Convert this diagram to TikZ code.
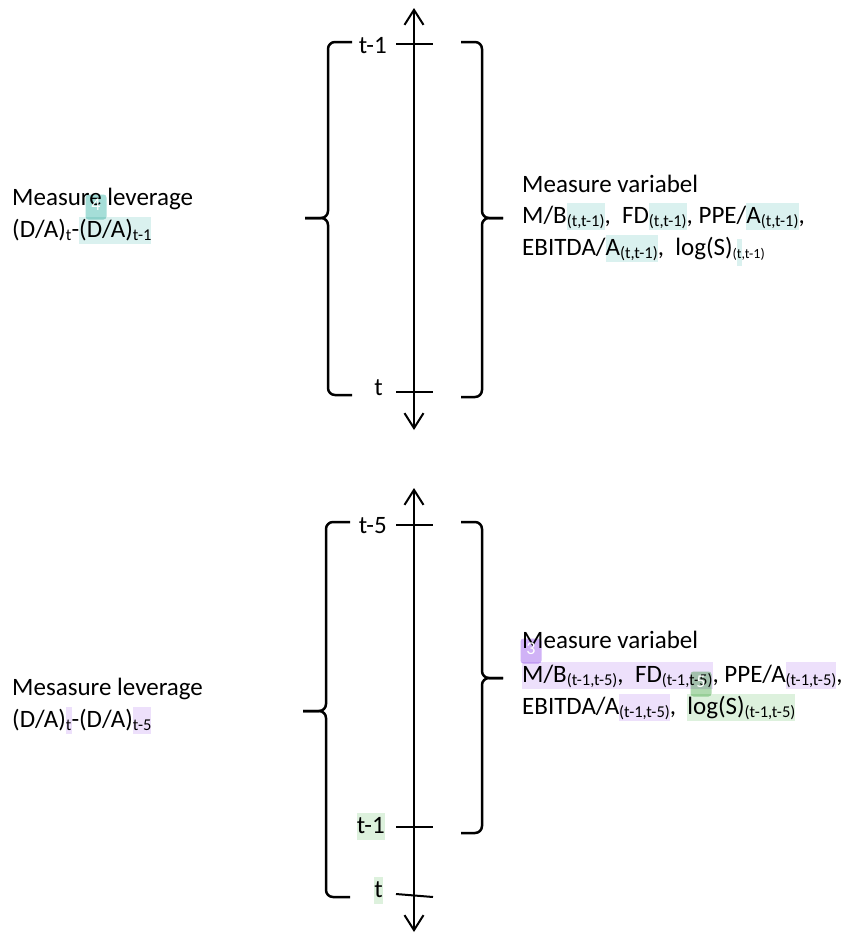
\documentclass[tikz,border=0pt]{standalone}
\usepackage{fontspec}
\setmainfont{Carlito}
\usetikzlibrary{arrows.meta}
\definecolor{hlteal}{RGB}{218,241,239}
\definecolor{hlpurple}{RGB}{237,224,251}
\definecolor{hlgreen}{RGB}{221,241,221}
\definecolor{bdteal}{RGB}{165,222,216}
\definecolor{bdpurple}{RGB}{208,178,246}
\definecolor{bdgreen}{RGB}{175,218,175}
\newcommand{\mysub}[1]{\raisebox{-3.5pt}{\fontsize{16.5}{18}\selectfont #1}}
\newcommand{\mysubs}[1]{\raisebox{-3.5pt}{\fontsize{14}{16}\selectfont #1}}
\newcommand{\hlon}[2]{{\setlength{\fboxsep}{0pt}\colorbox{#1}{\rule[-7pt]{0pt}{27pt}#2}}}
\begin{document}
\begin{tikzpicture}[x=1pt,y=-1pt,
  font=\fontsize{25}{30}\selectfont,
  axis/.style={line width=2pt,{Straight Barb[length=15pt,width=19pt]}-{Straight Barb[length=15pt,width=19pt]}},
  tickmark/.style={line width=2pt},
  bracestyle/.style={line width=2.5pt,rounded corners=7pt},
  txt/.style={anchor=base west,inner sep=0pt},
  ticklbl/.style={anchor=base east,inner sep=0pt},
  badgebox/.style={rounded corners=3pt,minimum width=21pt,minimum height=25pt,inner sep=0pt},
  badgenum/.style={text=white,font=\fontsize{18}{18}\selectfont,inner sep=0pt}]
\useasboundingbox (0,0) rectangle (861,935);
\fill[white] (0,0) rectangle (861,935);

% ---------- top panel ----------
\coordinate (a1top) at (414,8);
\coordinate (a1bot) at (414,430);
\draw[axis] (a1top) -- (a1bot);
\coordinate (k1l) at (396,44);  \coordinate (k1r) at (433,44);
\coordinate (k2l) at (396,392); \coordinate (k2r) at (433,392);
\draw[tickmark] (k1l) -- (k1r);
\draw[tickmark] (k2l) -- (k2r);
\node[ticklbl] (l1) at (387,53) {t-1};
\node[ticklbl] (l2) at (383,395) {t};

\draw[bracestyle] (352,42) -- (328,42) -- (328,218) -- (305,218);
\draw[bracestyle] (352,395) -- (328,395) -- (328,218) -- (305,218);
\draw[bracestyle] (461,42) -- (482,42) -- (482,218) -- (503,218);
\draw[bracestyle] (461,397) -- (482,397) -- (482,218) -- (503,218);

\node[txt] (tl1) at (12,205) {Measure leverage};
\node[txt] (tl2) at (12,237) {(D/A)\mysub{t}-\hlon{hlteal}{(D/A)\mysub{t-1}}};

\node[txt] (tr1) at (522,192) {Measure variabel};
\node[txt] (tr2) at (522,223) {M/B\hlon{hlteal}{\mysub{(t,t-1)}},\ \ FD\hlon{hlteal}{\mysub{(t,t-1)}}, PPE/\hlon{hlteal}{A\mysub{(t,t-1)}},};
\node[txt] (tr3) at (522,255) {EBITDA/\hlon{hlteal}{A\mysub{(t,t-1)}},\ \ log(S)\mysubs{(\hlon{hlteal}{t},t-1)}};

% ---------- bottom panel ----------
\coordinate (a2top) at (414,488);
\coordinate (a2bot) at (414,932);
\draw[axis] (a2top) -- (a2bot);
\coordinate (k3l) at (396,525); \coordinate (k3r) at (433,525);
\coordinate (k4l) at (396,827); \coordinate (k4r) at (433,827);
\coordinate (k5l) at (396,894); \coordinate (k5r) at (433,897);
\draw[tickmark] (k3l) -- (k3r);
\draw[tickmark] (k4l) -- (k4r);
\draw[tickmark] (k5l) -- (k5r);
\node[ticklbl] (l3) at (387,533) {t-5};
\node[ticklbl] (l4) at (385,833) {\hlon{hlgreen}{t-1}};
\node[ticklbl] (l5) at (383,897) {\hlon{hlgreen}{t}};

\draw[bracestyle] (350,522) -- (326,522) -- (326,711) -- (303,711);
\draw[bracestyle] (350,897) -- (326,897) -- (326,711) -- (303,711);
\draw[bracestyle] (461,522) -- (482,522) -- (482,678) -- (503,678);
\draw[bracestyle] (461,833) -- (482,833) -- (482,678) -- (503,678);

\node[txt] (bl1) at (12,695) {Mesasure leverage};
\node[txt] (bl2) at (12,727) {(D/A)\hlon{hlpurple}{\mysub{t}}-(D/A)\hlon{hlpurple}{\mysub{t-5}}};

\node[txt] (br1) at (522,648) {Measure variabel};
\node[txt] (br2) at (522,682) {\hlon{hlpurple}{M/B\mysub{(t-1,t-5)},\ \ FD\mysub{(t-1,t-5)}}, PPE/A\hlon{hlpurple}{\mysub{(t-1,t-5)}},};
\node[txt] (br3) at (522,714) {EBITDA/A\hlon{hlpurple}{\mysub{(t-1,t-5)}},\ \ \hlon{hlgreen}{log(S)\mysub{(t-1,t-5)}}};

% ---------- comment badges ----------
\node[badgebox,fill=bdteal,blend mode=multiply] (b4) at (96,207) {};
\node[badgebox,fill=bdpurple,blend mode=multiply] (b3) at (531,651) {};
\node[badgebox,fill=bdgreen,blend mode=multiply] (b5) at (701,684) {};
\node[badgenum] (n4) at ([yshift=2pt]b4.center) {4};
\node[badgenum] (n3) at ([yshift=2pt]b3.center) {3};
\node[badgenum] (n5) at ([yshift=2pt]b5.center) {5};
\end{tikzpicture}
\end{document}
